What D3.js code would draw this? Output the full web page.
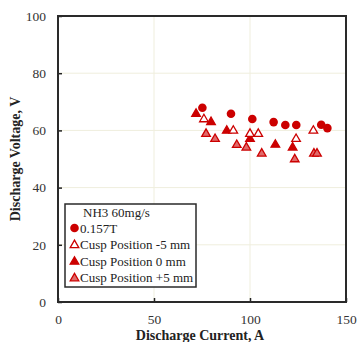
<!DOCTYPE html>
<html>
<head>
<meta charset="utf-8">
<script src="https://cdn.jsdelivr.net/npm/d3@7"></script>
<style>
  body { margin: 0; background: #fff; }
  text { font-family: "Liberation Serif", "Times New Roman", serif; fill: #222; }
</style>
</head>
<body>
<div id="chart"></div>
<script>
// data
var circle157 = [[75.2, 67.9], [90.1, 65.8], [101.2, 64.0], [112.3, 62.9], [118.4, 61.9], [124.1, 61.9], [137.1, 62.0], [140.3, 60.8]];
var cuspMinus5 = [[76.0, 63.9], [91.3, 59.9], [100.0, 58.8], [104.3, 58.8], [124.0, 57.0], [133.0, 59.9]];
var cusp0 = [[71.9, 65.8], [79.7, 62.9], [87.9, 59.9], [100.0, 57.0], [113.2, 55.0], [122.2, 54.0]];
var cuspPlus5 = [[77.1, 58.8], [81.8, 57.0], [93.1, 54.9], [98.1, 54.0], [106.1, 51.9], [123.3, 49.9], [133.3, 51.9], [134.9, 51.9]];
var xTicks = [0, 50, 100, 150];
var yTicks = [0, 20, 40, 60, 80, 100];
var legendTitle = "NH3 60mg/s";
var legendLabels = ["0.157T", "Cusp Position -5 mm", "Cusp Position 0 mm", "Cusp Position +5 mm"];

var margin = { top: 16, right: 13, bottom: 40, left: 58 },
  width = 359 - margin.left - margin.right,
  height = 342 - margin.top - margin.bottom;

var red = "#cc0000";

let svg = d3.select("#chart")
  .append("svg")
  .attr("width", 359)
  .attr("height", 342)
  .append("g")
  .attr("transform", "translate(" + margin.left + "," + margin.top + ")");

let x = d3.scaleLinear().domain([0, 150]).range([0, width]);
let y = d3.scaleLinear().domain([0, 100]).range([height, 0]);

// grid
svg.append("g").selectAll("line").data(xTicks.slice(1, -1)).join("line")
  .attr("x1", d => x(d)).attr("x2", d => x(d))
  .attr("y1", 0).attr("y2", height)
  .attr("stroke", "#efeedd").attr("stroke-width", 1);
svg.append("g").selectAll("line").data(yTicks.slice(1, -1)).join("line")
  .attr("y1", d => y(d)).attr("y2", d => y(d))
  .attr("x1", 0).attr("x2", width)
  .attr("stroke", "#efeedd").attr("stroke-width", 1);

// axes
let xAxis = svg.append("g")
  .attr("transform", "translate(0," + height + ")")
  .call(d3.axisBottom(x).tickValues(xTicks).tickSize(-4).tickPadding(12).tickFormat(d3.format("d")));
let yAxis = svg.append("g")
  .call(d3.axisLeft(y).tickValues(yTicks).tickSize(-4).tickPadding(12).tickFormat(d3.format("d")));
[xAxis, yAxis].forEach(function (a) {
  a.select(".domain").remove();
  a.selectAll(".tick line").attr("stroke", "#222").attr("stroke-width", 1.5);
  a.selectAll(".tick text").style("font-size", "13.5px").style("fill", "#333")
    .style("font-family", "'Liberation Serif', serif");
});

// frame
svg.append("rect")
  .attr("width", width).attr("height", height)
  .attr("fill", "none").attr("stroke", "#2a2a2a").attr("stroke-width", 2);

// axis titles
svg.append("text")
  .attr("x", width / 2 - 2).attr("y", height + 38)
  .attr("text-anchor", "middle")
  .style("font-size", "14px").style("font-weight", "bold")
  .text("Discharge Current, A");
svg.append("text")
  .attr("transform", "translate(-38," + (height / 2) + ") rotate(-90)")
  .attr("text-anchor", "middle")
  .style("font-size", "14px").style("font-weight", "bold")
  .text("Discharge Voltage, V");

// markers
var tri = d3.symbol().type(d3.symbolTriangle).size(32);

function drawTriangles(data, fill, stroke) {
  svg.append("g").selectAll("path").data(data).join("path")
    .attr("d", tri)
    .attr("transform", d => "translate(" + x(d[0]) + "," + y(d[1]) + ")")
    .attr("fill", fill).attr("stroke", stroke).attr("stroke-width", 1.3);
}

drawTriangles(cuspPlus5, "#e06a6a", red);
drawTriangles(cusp0, red, red);
drawTriangles(cuspMinus5, "#fff", red);

svg.append("g").selectAll("circle").data(circle157).join("circle")
  .attr("cx", d => x(d[0])).attr("cy", d => y(d[1]))
  .attr("r", 4.3).attr("fill", red);

// legend
let lg = svg.append("g").attr("transform", "translate(" + (65 - margin.left) + "," + (204 - margin.top) + ")");
lg.append("rect").attr("width", 131).attr("height", 83)
  .attr("fill", "#fff").attr("stroke", "#2a2a2a").attr("stroke-width", 1.5);
lg.append("text").attr("x", 18).attr("y", 12.5).style("font-size", "13px").text(legendTitle);

var rows = [
  { label: legendLabels[0], kind: "circle" },
  { label: legendLabels[1], fill: "#fff" },
  { label: legendLabels[2], fill: red },
  { label: legendLabels[3], fill: "#e06a6a" }
];
rows.forEach(function (r, i) {
  var cy = 24 + i * 16.6;
  if (r.kind === "circle") {
    lg.append("circle").attr("cx", 9.5).attr("cy", cy).attr("r", 4.3).attr("fill", red);
  } else {
    lg.append("path").attr("d", tri)
      .attr("transform", "translate(9.5," + (cy + 0.5) + ")")
      .attr("fill", r.fill).attr("stroke", red).attr("stroke-width", 1.3);
  }
  lg.append("text").attr("x", 15).attr("y", cy + 4.5).style("font-size", "13px").text(r.label);
});
</script>
</body>
</html>
